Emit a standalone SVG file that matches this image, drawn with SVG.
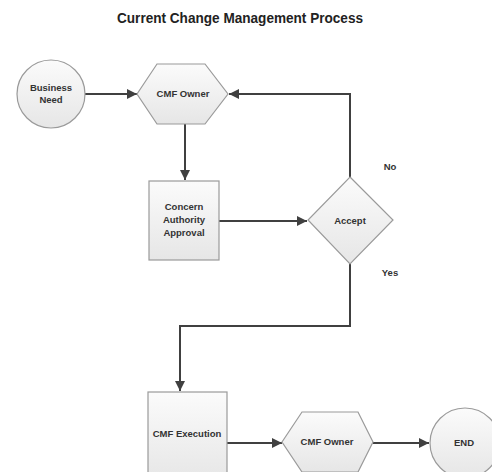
<svg xmlns="http://www.w3.org/2000/svg" width="492" height="472" viewBox="0 0 492 472">
<defs>
<linearGradient id="g" x1="0" y1="0" x2="0" y2="1">
<stop offset="0" stop-color="#fbfbfb"/>
<stop offset="1" stop-color="#e6e6e6"/>
</linearGradient>
<marker id="arr" viewBox="0 0 10 10" refX="10" refY="5" markerWidth="5" markerHeight="5" orient="auto" markerUnits="strokeWidth">
<path d="M0,0 L10,5 L0,10 z" fill="#404040"/>
</marker>
<style>
.n{fill:url(#g);stroke:#9a9a9a;stroke-width:1.2}
.t{font-family:"Liberation Sans",Arial,sans-serif;font-weight:bold;font-size:9.5px;fill:#333;text-anchor:middle}
.c{fill:none;stroke:#404040;stroke-width:2;marker-end:url(#arr)}
.title{font-family:"Liberation Sans",Arial,sans-serif;font-weight:bold;font-size:14px;fill:#222;text-anchor:middle}
</style>
</defs>
<rect width="492" height="472" fill="#ffffff"/>
<text class="title" x="240" y="23" textLength="246" lengthAdjust="spacingAndGlyphs">Current Change Management Process</text>
<g id="connectors">
<path class="c" d="M85,94 L137,94"/>
<path class="c" d="M350,177 L350,94 L229,94"/>
<path class="c" d="M185,124 L185,180"/>
<path class="c" d="M219,221 L307,221"/>
<path class="c" d="M350,264 L350,326 L180,326 L180,391"/>
<path class="c" d="M227,443 L282,443"/>
<path class="c" d="M373,443 L429,443"/>
</g>
<g id="business-need">
<circle class="n" cx="51" cy="94" r="34"/>
<text class="t" x="51" y="91">Business</text>
<text class="t" x="51" y="103">Need</text>
</g>
<g id="cmf-owner-1">
<polygon class="n" points="137,94 157,64 205,64 228,94 205,124 157,124"/>
<text class="t" x="183" y="97">CMF Owner</text>
</g>
<g id="concern-authority">
<rect class="n" x="149" y="181" width="70" height="79"/>
<text class="t" x="184" y="210">Concern</text>
<text class="t" x="184" y="223">Authority</text>
<text class="t" x="184" y="236">Approval</text>
</g>
<g id="accept">
<polygon class="n" points="350,177 393,220 350,264 308,220"/>
<text class="t" x="350" y="224">Accept</text>
</g>
<text class="t" x="390" y="170">No</text>
<text class="t" x="390" y="276">Yes</text>
<g id="cmf-execution">
<rect class="n" x="148" y="392" width="79" height="90"/>
<text class="t" x="187" y="437">CMF Execution</text>
</g>
<g id="cmf-owner-2">
<polygon class="n" points="282,442 302,412 358,412 373,442 358,472 302,472"/>
<text class="t" x="327" y="445">CMF Owner</text>
</g>
<g id="end">
<circle class="n" cx="465" cy="443" r="35"/>
<text class="t" x="464" y="446">END</text>
</g>
</svg>
